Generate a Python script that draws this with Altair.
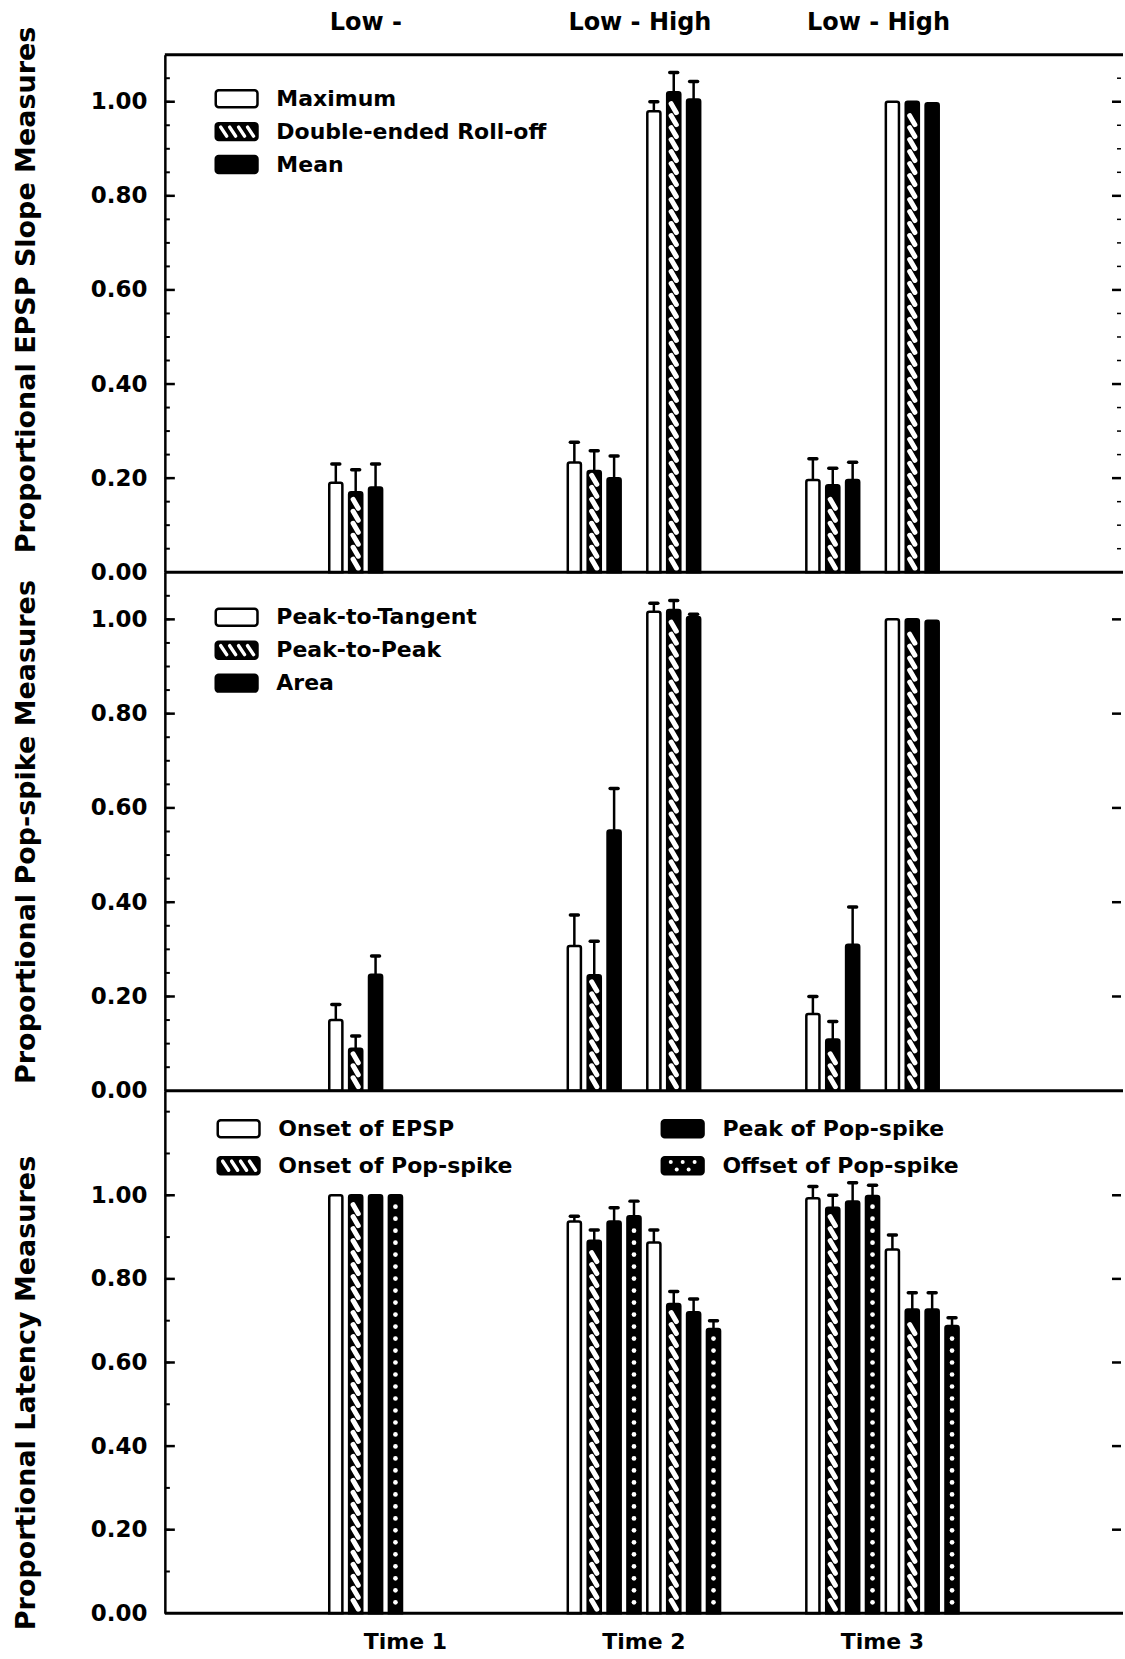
import altair as alt
import numpy as np
import pandas as pd

# ---------------------------------------------------------------- categories
times = ["Time 1", "Time 2", "Time 3"]
top_labels = ["Low -", "Low - High", "Low - High"]
conditions = ["Low", "High"]

slope_measures = ["Maximum", "Double-ended Roll-off", "Mean"]
spike_measures = ["Peak-to-Tangent", "Peak-to-Peak", "Area"]
latency_measures = ["Onset of EPSP", "Onset of Pop-spike",
                    "Peak of Pop-spike", "Offset of Pop-spike"]

# fill style of each measure's bars
slope_fills = ["open", "hatch", "solid"]
spike_fills = ["open", "hatch", "solid"]
latency_fills = ["open", "hatch", "solid", "dots"]

# ------------------------------------------ EPSP slope (mean, standard error)
slope_t1_low = [0.19, 0.17, 0.18]
slope_t1_low_se = [0.04, 0.048, 0.05]
slope_t2_low = [0.233, 0.215, 0.20]
slope_t2_low_se = [0.043, 0.043, 0.047]
slope_t2_high = [0.98, 1.02, 1.005]
slope_t2_high_se = [0.02, 0.042, 0.038]
slope_t3_low = [0.196, 0.185, 0.196]
slope_t3_low_se = [0.045, 0.036, 0.038]
slope_t3_high = [1.0, 1.0, 0.997]
slope_t3_high_se = [0.0, 0.0, 0.0]

# ------------------------------------------- pop-spike (mean, standard error)
spike_t1_low = [0.15, 0.089, 0.246]
spike_t1_low_se = [0.033, 0.027, 0.04]
spike_t2_low = [0.307, 0.245, 0.552]
spike_t2_low_se = [0.066, 0.072, 0.089]
spike_t2_high = [1.016, 1.02, 1.005]
spike_t2_high_se = [0.018, 0.02, 0.006]
spike_t3_low = [0.163, 0.109, 0.31]
spike_t3_low_se = [0.037, 0.038, 0.08]
spike_t3_high = [1.0, 1.0, 0.997]
spike_t3_high_se = [0.0, 0.0, 0.0]

# --------------------------------------------- latency (mean, standard error)
latency_t1_low = [1.0, 1.0, 1.0, 1.0]
latency_t1_low_se = [0.0, 0.0, 0.0, 0.0]
latency_t2_low = [0.937, 0.891, 0.937, 0.95]
latency_t2_low_se = [0.013, 0.026, 0.033, 0.036]
latency_t2_high = [0.887, 0.74, 0.72, 0.68]
latency_t2_high_se = [0.03, 0.03, 0.032, 0.02]
latency_t3_low = [0.993, 0.97, 0.985, 0.998]
latency_t3_low_se = [0.028, 0.03, 0.045, 0.026]
latency_t3_high = [0.87, 0.727, 0.727, 0.687]
latency_t3_high_se = [0.035, 0.04, 0.04, 0.02]

# ------------------------------------------------------------------- layout
W = 957               # plot width in px
X_MAX = 48.1          # width of the x scale in bar slots
FIRST_SLOT = 8.6      # centre of the first bar of Time 1
GROUP_SLOTS = 12      # slots from one time point to the next
HIGH_OFFSET = 4       # the "High" bars start four slots after "Low"
BAR_HALF = 0.33
FONT = "DejaVu Sans"
INK = "black"


def bar_frame(measures, fills, groups):
    rows = []
    for t, cond, vals, ses in groups:
        start = 0 if cond == "Low" else HIGH_OFFSET
        for j, (m, f, v, e) in enumerate(zip(measures, fills, vals, ses)):
            x = FIRST_SLOT + GROUP_SLOTS * t + start + j
            rows.append(dict(time=times[t], condition=cond, measure=m, kind=f,
                             value=v, se=e, top=v + e, x=x,
                             xl=x - BAR_HALF, xr=x + BAR_HALF,
                             cl=x - 0.2, cr=x + 0.2))
    return pd.DataFrame(rows)


def hatch_frame(bars, ppu):
    period, rise, edge = 12 / ppu, 9 / ppu, 4 / ppu
    segs = []
    for _, b in bars[bars.kind == "hatch"].iterrows():
        y = edge
        while y + rise <= b.value - edge:
            segs.append(dict(x=b.x - 0.13, x2=b.x + 0.13, y=y + rise, y2=y))
            y += period
    return pd.DataFrame(segs)


def dot_frame(bars, ppu):
    period, edge = 12 / ppu, 5 / ppu
    dots = []
    for _, b in bars[bars.kind == "dots"].iterrows():
        y = edge + period / 2
        while y <= b.value - edge:
            dots.append(dict(x=b.x, y=y))
            y += period
    return pd.DataFrame(dots)


def legend_frames(measures, fills, n_cols, col_x, top_px, row_px, ymax, ppu):
    n_rows = int(np.ceil(len(measures) / n_cols))
    half = 8.5 / ppu
    items, segs, dots = [], [], []
    for i, (m, f) in enumerate(zip(measures, fills)):
        c, r = divmod(i, n_rows)
        x0 = col_x[c]
        yc = ymax - (top_px + r * row_px) / ppu
        items.append(dict(label=m, kind=f, x0=x0, x1=x0 + 2.1, tx=x0 + 3.05,
                          yc=yc, y0=yc - half, y1=yc + half))
        if f == "hatch":
            for k in range(4):
                a = x0 + 0.25 + 0.45 * k
                segs.append(dict(x=a, x2=a + 0.3, y=yc + half - 4 / ppu,
                                 y2=yc - half + 4 / ppu))
        if f == "dots":
            for k in range(3):
                dots.append(dict(x=x0 + 0.45 + 0.6 * k, y=yc + half * 0.45))
            for k in range(2):
                dots.append(dict(x=x0 + 0.75 + 0.6 * k, y=yc - half * 0.45))
    return pd.DataFrame(items), pd.DataFrame(segs), pd.DataFrame(dots)


def panel(measures, fills, groups, ymax, height, title, title_y, minor_step,
          legend_cols, legend_x, legend_top, legend_row, top=False, bottom=False,
          right_minor=False):
    ppu = height / ymax
    xs = alt.Scale(domain=[0, X_MAX], nice=False, zero=False)
    ys = alt.Scale(domain=[0, ymax], nice=False, zero=True)
    bars = bar_frame(measures, fills, groups)
    yaxis = alt.Axis(
        values=[0, 0.2, 0.4, 0.6, 0.8, 1.0], format=".2f", ticks=False,
        grid=False, domainColor=INK, domainWidth=2.5, labelColor=INK,
        labelFont=FONT, labelFontSize=23, labelFontWeight="bold",
        labelPadding=18, labelFlush=False, labelOverlap=False,
        title=title, titleFont=FONT, titleFontSize=27, titleFontWeight="bold",
        titleColor=INK, titlePadding=50, titleY=title_y)

    def X(field):
        return alt.X(field, type="quantitative", scale=xs, axis=None)

    def Y(field):
        return alt.Y(field, type="quantitative", scale=ys, axis=yaxis)

    fill = alt.when(alt.datum.kind == "open").then(alt.value("white")).otherwise(alt.value(INK))
    layers = [
        alt.Chart(bars).mark_rect(stroke=INK, strokeWidth=2.5,
                                  cornerRadiusTopLeft=2, cornerRadiusTopRight=2).encode(
            x=X("xl"), x2="xr", y=Y("value"), y2=alt.datum(0), fill=fill,
            tooltip=["time", "condition", "measure", "value", "se"])
    ]

    segs = hatch_frame(bars, ppu)
    if len(segs):
        layers.append(alt.Chart(segs).mark_rule(color="white", strokeWidth=5,
                                                strokeCap="round").encode(
            x=X("x"), x2="x2", y=Y("y"), y2="y2"))
    dots = dot_frame(bars, ppu)
    if len(dots):
        layers.append(alt.Chart(dots).mark_circle(color="white", opacity=1, size=22).encode(
            x=X("x"), y=Y("y")))

    # error bars with caps
    errs = bars[bars.se > 0]
    layers.append(alt.Chart(errs).mark_rule(color=INK, strokeWidth=2.5).encode(
        x=X("x"), y=Y("value"), y2="top"))
    layers.append(alt.Chart(errs).mark_rule(color=INK, strokeWidth=3.5,
                                            strokeCap="round").encode(
        x=X("cl"), x2="cr", y=Y("top")))

    # inward ticks on both sides
    major = pd.DataFrame({"v": [0.2, 0.4, 0.6, 0.8, 1.0]})
    minor = pd.DataFrame({"v": np.round(np.arange(minor_step, ymax - 1e-9, minor_step), 3)})
    tick_sets = [(minor, 0, 5, 2), (major, 0, 10, 2.5), (major, W - 9, W, 2.5)]
    if right_minor:
        tick_sets.append((minor, W - 4, W, 1.5))
    for frame, x_a, x_b, sw in tick_sets:
        layers.append(alt.Chart(frame).mark_rule(color=INK, strokeWidth=sw).encode(
            y=Y("v"), x=alt.value(x_a), x2=alt.value(x_b)))

    # baseline, and the frame line along the top of the first panel
    edge_vals = [0.0, ymax] if top else [0.0]
    layers.append(alt.Chart(pd.DataFrame({"v": edge_vals})).mark_rule(
        color=INK, strokeWidth=3).encode(
        y=Y("v"), x=alt.value(0), x2=alt.value(W + 2)))

    # legend
    items, lsegs, ldots = legend_frames(measures, fills, legend_cols, legend_x,
                                        legend_top, legend_row, ymax, ppu)
    layers.append(alt.Chart(items).mark_rect(stroke=INK, strokeWidth=2.5,
                                             cornerRadius=3).encode(
        x=X("x0"), x2="x1", y=Y("y0"), y2="y1", fill=fill))
    if len(lsegs):
        layers.append(alt.Chart(lsegs).mark_rule(color="white", strokeWidth=3.5,
                                                 strokeCap="round").encode(
            x=X("x"), x2="x2", y=Y("y"), y2="y2"))
    if len(ldots):
        layers.append(alt.Chart(ldots).mark_circle(color="white", opacity=1, size=16).encode(
            x=X("x"), y=Y("y")))
    layers.append(alt.Chart(items).mark_text(
        align="left", baseline="middle", font=FONT, fontSize=22,
        fontWeight="bold", color=INK).encode(
        x=X("tx"), y=Y("yc"), text="label:N"))

    if top:
        heads = pd.DataFrame({"label": top_labels,
                              "x": [FIRST_SLOT + GROUP_SLOTS * t - 0.3 for t in range(3)]})
        layers.append(alt.Chart(heads).mark_text(
            align="left", baseline="middle", font=FONT, fontSize=24,
            fontWeight="bold", color=INK, dy=-32).encode(
            x=X("x"), y=alt.value(0), text="label:N"))
    if bottom:
        foots = pd.DataFrame({"label": times,
                              "x": [FIRST_SLOT + GROUP_SLOTS * t + 3.5 for t in range(3)]})
        layers.append(alt.Chart(foots).mark_text(
            align="center", baseline="middle", font=FONT, fontSize=22,
            fontWeight="bold", color=INK).encode(
            x=X("x"), y=alt.value(height + 29), text="label:N"))

    return alt.layer(*layers).properties(width=W, height=height)


H1, H2, H3 = 518, 519, 523

slope = panel(
    slope_measures, slope_fills,
    [(0, "Low", slope_t1_low, slope_t1_low_se),
     (1, "Low", slope_t2_low, slope_t2_low_se),
     (1, "High", slope_t2_high, slope_t2_high_se),
     (2, "Low", slope_t3_low, slope_t3_low_se),
     (2, "High", slope_t3_high, slope_t3_high_se)],
    1.1, H1, "Proportional EPSP Slope Measures", 235, 0.05,
    1, [2.56], 44, 33, top=True, right_minor=True)

spike = panel(
    spike_measures, spike_fills,
    [(0, "Low", spike_t1_low, spike_t1_low_se),
     (1, "Low", spike_t2_low, spike_t2_low_se),
     (1, "High", spike_t2_high, spike_t2_high_se),
     (2, "Low", spike_t3_low, spike_t3_low_se),
     (2, "High", spike_t3_high, spike_t3_high_se)],
    1.1, H2, "Proportional Pop-spike Measures", H2 / 2, 0.05,
    1, [2.56], 45, 33)

latency = panel(
    latency_measures, latency_fills,
    [(0, "Low", latency_t1_low, latency_t1_low_se),
     (1, "Low", latency_t2_low, latency_t2_low_se),
     (1, "High", latency_t2_high, latency_t2_high_se),
     (2, "Low", latency_t3_low, latency_t3_low_se),
     (2, "High", latency_t3_high, latency_t3_high_se)],
    1.25, H3, "Proportional Latency Measures", 302, 0.1,
    2, [2.66, 25.0], 38, 37, bottom=True)

chart = alt.vconcat(slope, spike, latency, spacing=0, bounds="flush").properties(
    padding={"left": 12, "top": 10, "right": 0, "bottom": 0},
    background="white",
).configure_view(strokeWidth=0)

chart.save("out.html", embed_options={"renderer": "svg", "actions": False})
